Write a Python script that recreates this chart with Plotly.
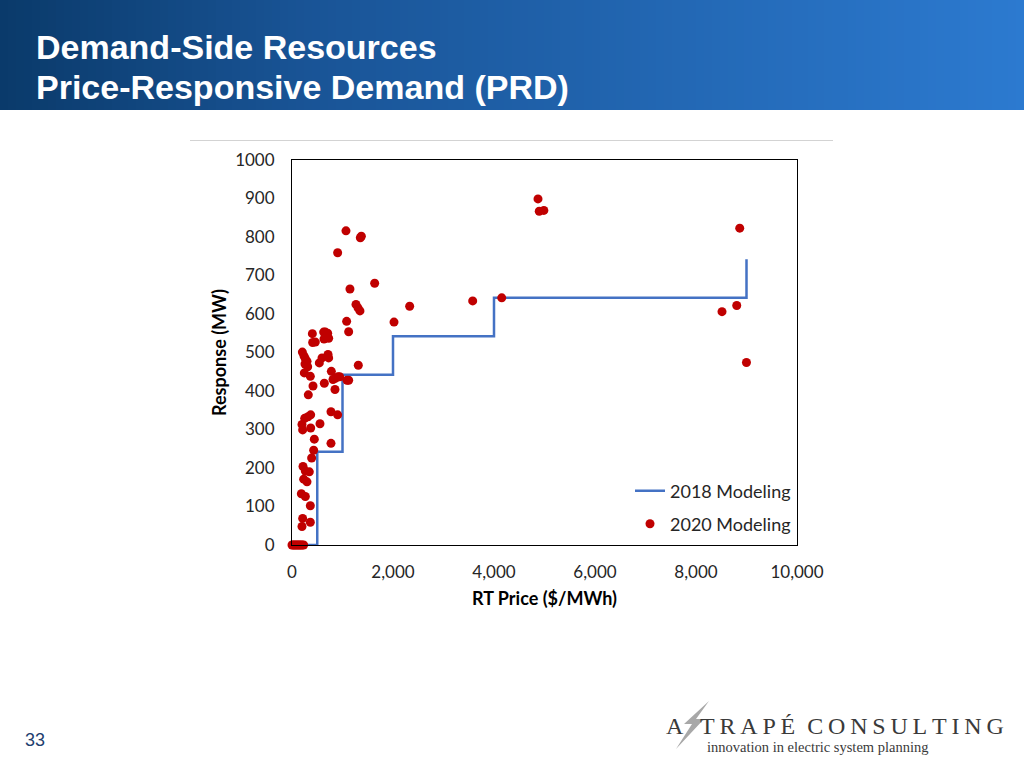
import plotly.graph_objects as go

# ---------------- Data ----------------
step_price = [0, 500, 500, 1000, 1000, 2000, 2000, 4000, 4000, 9000, 9000]
step_mw = [0, 0, 242, 242, 442, 442, 542, 542, 642, 642, 742]

prd_price = [0, 25, 50, 75, 100, 125, 150, 175, 200, 230,
             1069, 1373, 1353, 904, 1148, 1637, 1267, 1307, 1346, 2330,
             1082, 2020, 1122, 403, 627, 660, 706, 726, 634, 409,
             462, 205, 238, 264, 297, 257, 310, 244, 363, 594,
             541, 713, 726, 779, 812, 858, 911, 944, 1089, 1122,
             640, 416, 851, 323, 1313, 772, 904, 251, 317, 370,
             198, 211, 370, 554, 442, 429, 772, 389, 218, 264,
             343, 231, 297, 185, 264, 363, 211, 198, 363,
             4871, 4896, 4987, 8866, 3578, 4153, 8515, 8807, 8999]
prd_mw = [0, 0, 0, 0, 0, 0, 0, 0, 0, 0,
          816, 802, 798, 759, 665, 680, 625, 616, 608, 620,
          581, 579, 554, 549, 553, 553, 550, 537, 535, 526,
          527, 501, 491, 484, 477, 470, 463, 447, 438, 486,
          473, 495, 486, 451, 430, 433, 437, 437, 428, 428,
          420, 413, 404, 390, 467, 346, 338, 329, 333, 338,
          313, 299, 304, 315, 275, 246, 264, 226, 204, 192,
          190, 171, 164, 133, 126, 102, 69, 48, 59,
          899, 867, 869, 823, 634, 642, 606, 622, 474]

x_ticks = [0, 2000, 4000, 6000, 8000, 10000]
y_ticks = [0, 100, 200, 300, 400, 500, 600, 700, 800, 900, 1000]

title_lines = ["Demand-Side Resources", "Price-Responsive Demand (PRD)"]

# ---------------- Layout helpers (pixel -> paper) ----------------
W, H = 1024, 768
PL, PR, PT, PB = 292, 797, 160, 545


def fx(x):
    return (x - PL) / (PR - PL)


def fy(y):
    return (PB - y) / (PB - PT)


fig = go.Figure()

fig.add_trace(go.Scatter(
    x=step_price, y=step_mw, mode="lines", name="2018 Modeling",
    line=dict(color="#4472C4", width=2.5), legend="legend",
    cliponaxis=False,
))
fig.add_trace(go.Scatter(
    x=prd_price, y=prd_mw, mode="markers", name="2020 Modeling",
    marker=dict(color="#C00000", size=9), legend="legend2",
    cliponaxis=False,
))

shapes = []
# header gradient
stops = [(0.0, (10, 58, 106)), (0.3, (25, 84, 150)), (1.0, (44, 122, 208))]


def grad(t):
    for (t0, c0), (t1, c1) in zip(stops[:-1], stops[1:]):
        if t0 <= t <= t1:
            u = (t - t0) / (t1 - t0)
            return "rgb(%d,%d,%d)" % tuple(round(a + (b - a) * u) for a, b in zip(c0, c1))
    return "rgb(%d,%d,%d)" % stops[-1][1]


N = 128
sw = W / N
for i in range(N):
    shapes.append(dict(type="rect", xref="paper", yref="paper",
                       x0=fx(i * sw), x1=fx((i + 1) * sw + 0.6),
                       y0=fy(110), y1=fy(0),
                       fillcolor=grad((i + 0.5) / N), line=dict(width=0), layer="below"))
# thin gray rule above chart
shapes.append(dict(type="line", xref="paper", yref="paper",
                   x0=fx(190), x1=fx(833), y0=fy(140.5), y1=fy(140.5),
                   line=dict(color="#D3D3D3", width=1)))
# logo bolt
bolt = [(709, 701), (684, 724), (692, 724), (676, 749), (704, 719), (696, 719)]
path = "M " + " L ".join("%f,%f" % (fx(a), fy(b)) for a, b in bolt) + " Z"
shapes.append(dict(type="path", xref="paper", yref="paper", path=path,
                   fillcolor="#A8A8A8", line=dict(width=0)))

annotations = []
for i, t in enumerate(title_lines):
    annotations.append(dict(text=t, xref="paper", yref="paper", x=fx(34), y=fy(47 + 40 * i),
                            xanchor="left", yanchor="middle", showarrow=False,
                            font=dict(family="Liberation Sans", size=34, color="white", weight="bold")))
annotations.append(dict(text="33", xref="paper", yref="paper", x=fx(23), y=fy(740),
                        xanchor="left", yanchor="middle", showarrow=False,
                        font=dict(family="Liberation Sans", size=18, color="#1F3F6F")))
ts = "\u2009"
annotations.append(dict(text="A", xref="paper", yref="paper", x=fx(664), y=fy(726),
                        xanchor="left", yanchor="middle", showarrow=False,
                        font=dict(family="Liberation Serif", size=24, color="#3A3A3A")))
annotations.append(dict(text=ts.join("TRAPÉ") + "\u2002" + ts.join("CONSULTING"),
                        xref="paper", yref="paper", x=fx(698), y=fy(726),
                        xanchor="left", yanchor="middle", showarrow=False,
                        font=dict(family="Liberation Serif", size=24, color="#3A3A3A")))
annotations.append(dict(text="innovation in electric system planning",
                        xref="paper", yref="paper", x=fx(705), y=fy(747),
                        xanchor="left", yanchor="middle", showarrow=False,
                        font=dict(family="Liberation Serif", size=14.5, color="#3A3A3A")))

tick_font = dict(family="Lato", size=17, color="#262626")
leg_font = dict(family="Lato", size=18, color="#262626")
fig.update_layout(
    width=W, height=H, autosize=False,
    margin=dict(l=PL, r=W - PR, t=PT, b=H - PB, pad=0),
    paper_bgcolor="white", plot_bgcolor="white",
    shapes=shapes, annotations=annotations,
    showlegend=True,
    legend=dict(x=fx(630), y=fy(491), xanchor="left", yanchor="middle",
                bgcolor="rgba(0,0,0,0)", font=leg_font),
    legend2=dict(x=fx(630), y=fy(524), xanchor="left", yanchor="middle",
                 bgcolor="rgba(0,0,0,0)", font=leg_font),
    xaxis=dict(range=[0, 10000], tickvals=x_ticks, tickformat=",d",
               showgrid=False, zeroline=False, showline=True, mirror=True,
               linecolor="black", linewidth=1, ticks="", tickfont=tick_font,
               ticklabelstandoff=12,
               title=dict(text="<b>RT Price ($/MWh)</b>", standoff=10,
                          font=dict(family="Lato", size=18, color="#000000"))),
    yaxis=dict(range=[0, 1000], tickvals=y_ticks,
               showgrid=False, zeroline=False, showline=True, mirror=True,
               linecolor="black", linewidth=1, ticks="", tickfont=tick_font,
               ticklabelstandoff=13,
               title=dict(text="<b>Response (MW)</b>", standoff=3,
                          font=dict(family="Lato", size=18, color="#000000"))),
)

fig.write_html("out.html", config={"displayModeBar": False},
               post_script="document.body.style.margin='0';document.body.style.padding='0';")
